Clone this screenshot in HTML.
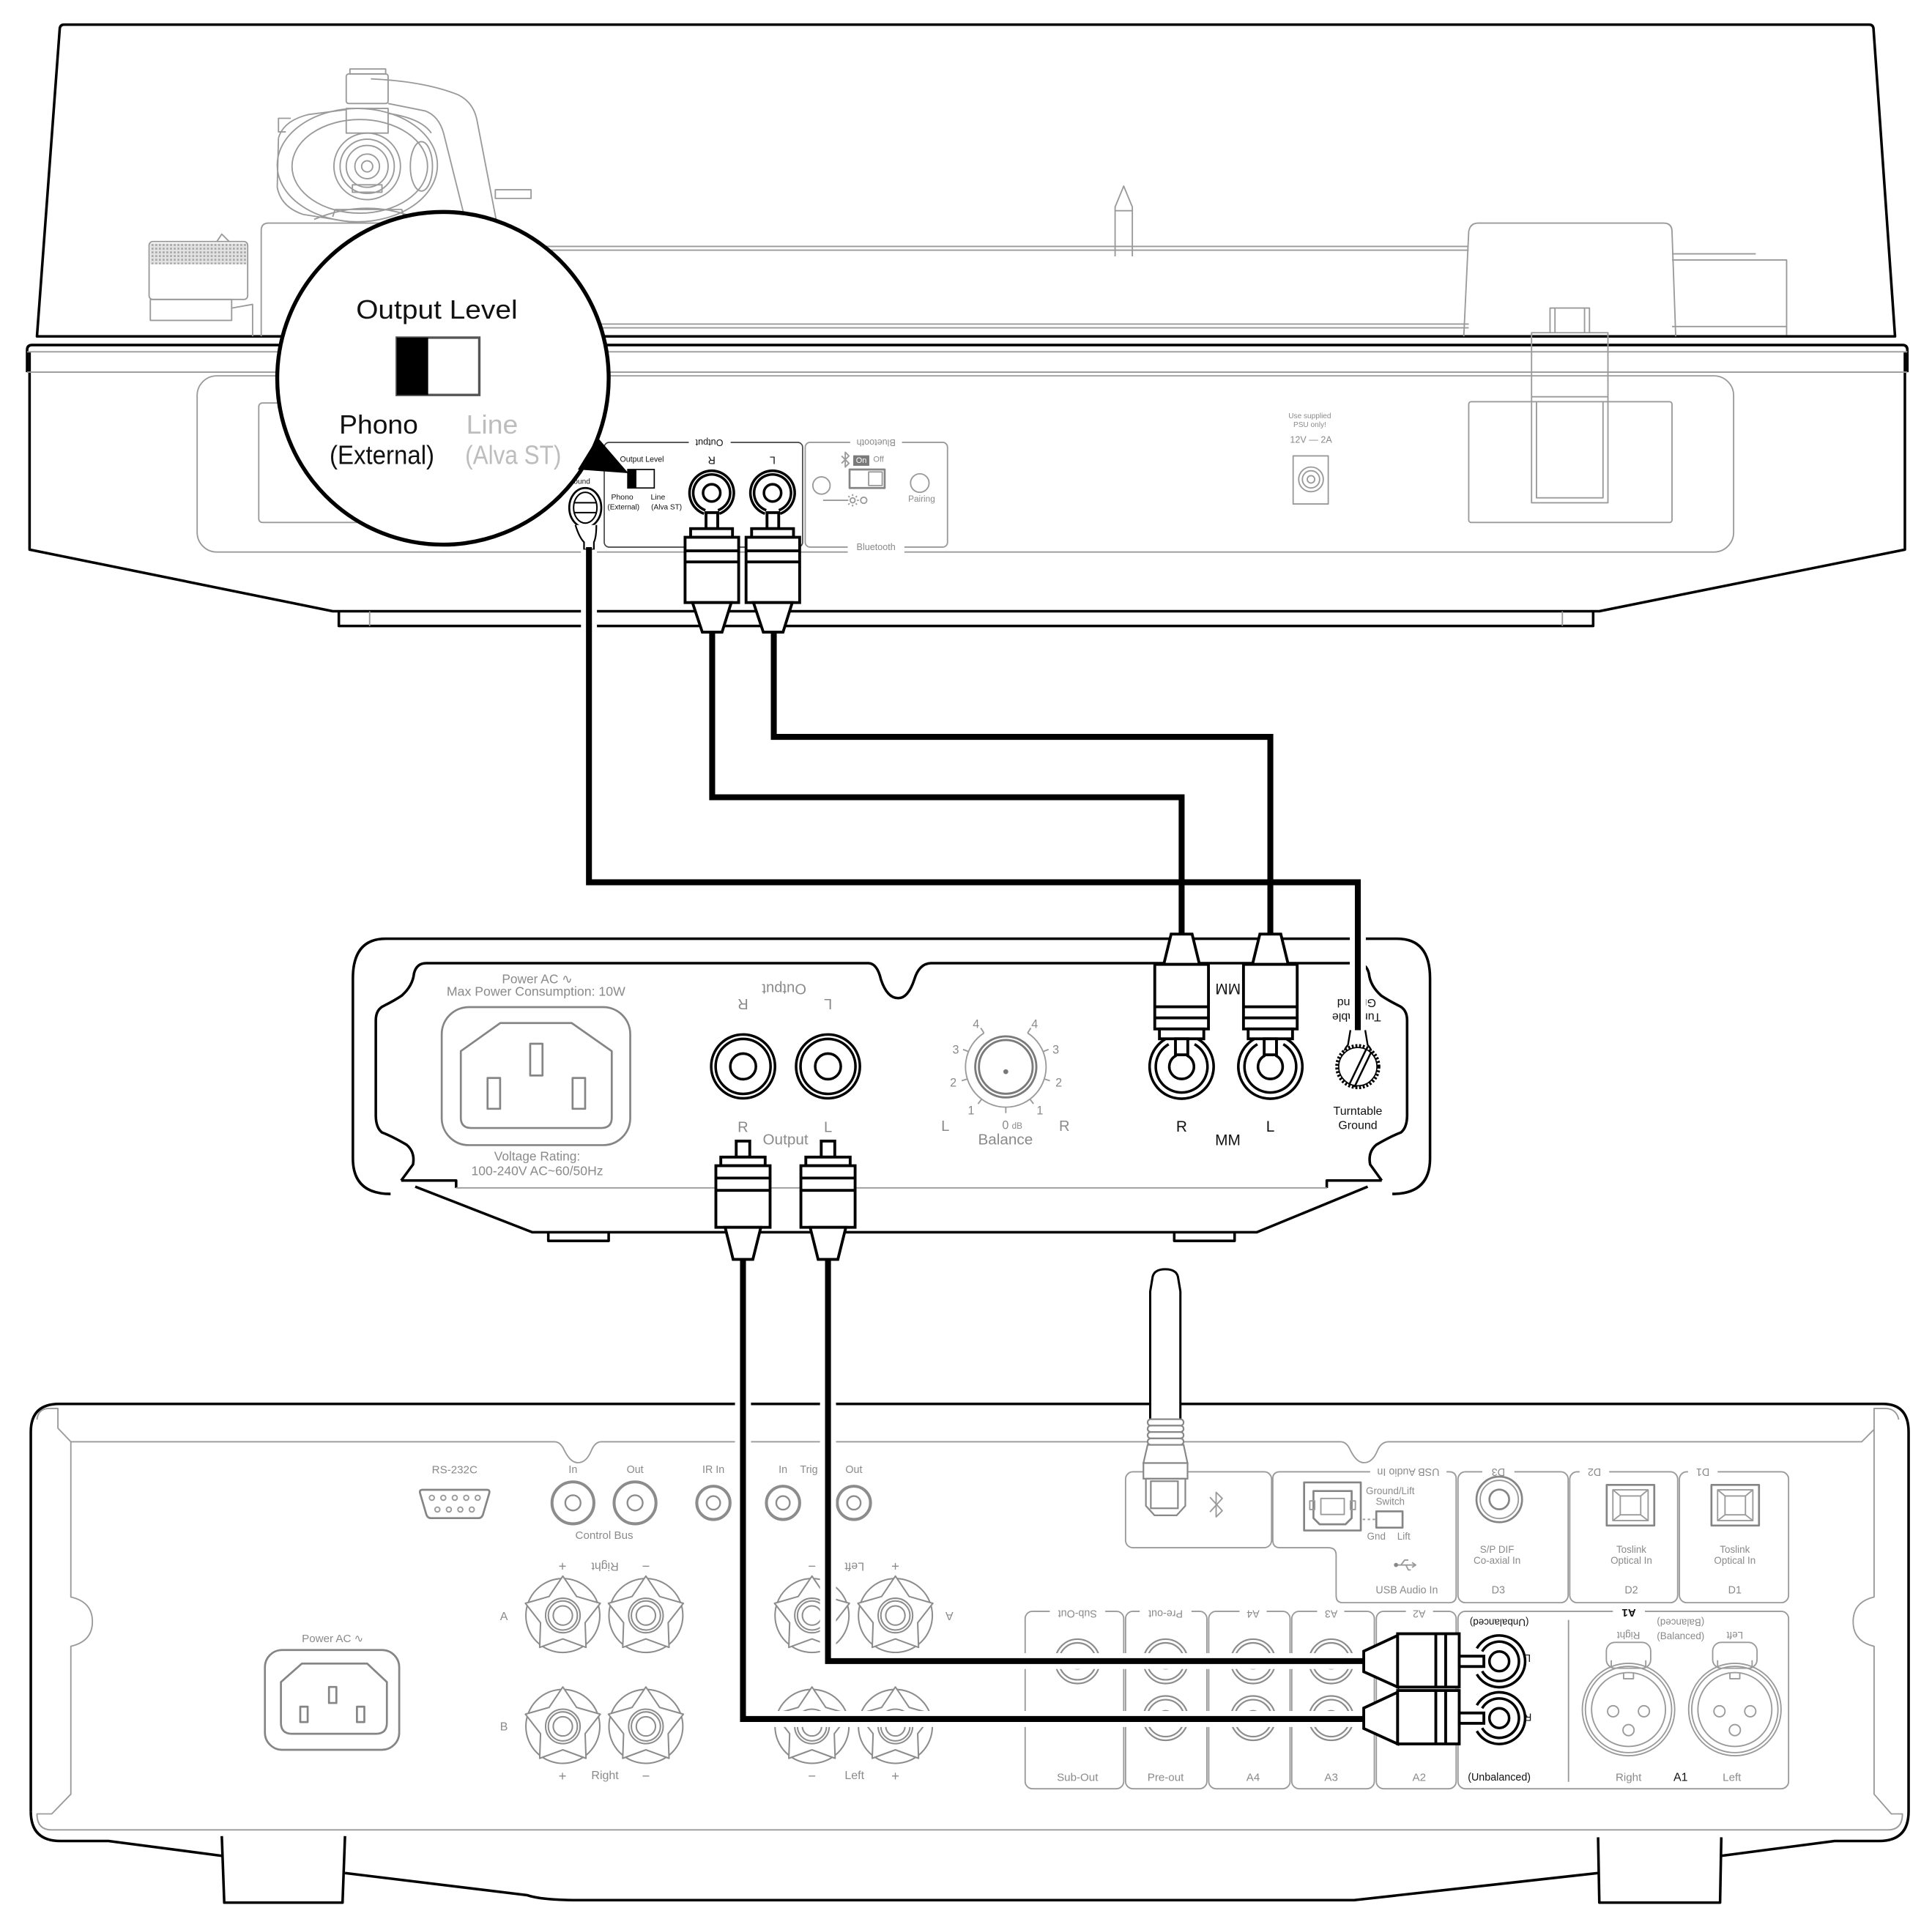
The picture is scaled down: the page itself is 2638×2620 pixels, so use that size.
<!DOCTYPE html>
<html><head><meta charset="utf-8"><title>Turntable - Phono Preamp - Amplifier connection</title>
<style>
html,body{margin:0;padding:0;background:#fff;}
svg{display:block;}
.g{fill:none;stroke:#9a9a9a;stroke-width:1.1;stroke-linejoin:round}
.gw{fill:#fff;stroke:#8c8c8c;stroke-width:1.2;stroke-linejoin:round}
.g2{fill:none;stroke:#858585;stroke-width:1.6;stroke-linejoin:round}
.k{fill:none;stroke:#000;stroke-width:2.1;stroke-linejoin:round}
.kw{fill:#fff;stroke:#000;stroke-width:2.3;stroke-linejoin:miter}
.halo{fill:none;stroke:#fff;stroke-width:13;stroke-linejoin:miter}
.cab{fill:none;stroke:#000;stroke-width:4.8;stroke-linejoin:miter}
text{font-family:"Liberation Sans",Arial,sans-serif;text-anchor:middle;dominant-baseline:central}
.tg{fill:#8a8a8a}
.tk{fill:#111}
</style></head><body>
<svg width="2638" height="2620" viewBox="0 0 1568 1557.3" preserveAspectRatio="none" xmlns="http://www.w3.org/2000/svg">
<defs>
  <pattern id="knurl" x="0" y="0" width="3" height="3" patternUnits="userSpaceOnUse">
    <rect width="3" height="3" fill="#e2e2e2"/>
    <rect x="0" y="0" width="1.6" height="1.6" fill="#a8a8a8"/>
  </pattern>
  <g id="st">
    <circle r="30" fill="none" stroke="#8c8c8c" stroke-width="1.2"/>
    <path class="gw" d="M0,-32 L11.2,-15.4 L30.4,-9.9 L18.1,5.9 L18.8,25.9 L0,19 L-18.8,25.9 L-18.1,5.9 L-30.4,-9.9 L-11.2,-15.4 Z"/>
    <circle r="14" fill="none" stroke="#8c8c8c" stroke-width="1.2"/>
    <circle r="11.8" fill="none" stroke="#8c8c8c" stroke-width="1.2"/>
    <circle r="7.8" fill="none" stroke="#8c8c8c" stroke-width="1.2"/>
  </g>
  <g id="jk">
    <circle r="17" fill="none" stroke="#8c8c8c" stroke-width="2.4"/>
    <circle r="6.2" fill="none" stroke="#8c8c8c" stroke-width="1.4"/>
  </g>
  <g id="jk2">
    <circle r="13.5" fill="none" stroke="#8c8c8c" stroke-width="2.4"/>
    <circle r="5.5" fill="none" stroke="#8c8c8c" stroke-width="1.4"/>
  </g>
  <g id="lj">
    <circle r="18" fill="none" stroke="#8c8c8c" stroke-width="1.3"/>
    <circle r="15" fill="none" stroke="#8c8c8c" stroke-width="1.3"/>
    <circle r="6" fill="none" stroke="#8c8c8c" stroke-width="1.3"/>
  </g>
  <g id="xlr">
    <path class="g" d="M-14,-34 L-14,-40 M14,-34 L14,-40"/>
    <rect x="-18" y="-54.5" width="36" height="21" rx="7" class="g"/>
    <circle r="37.5" class="g"/>
    <circle r="35" class="g"/>
    <circle r="30" class="g"/>
    <path class="g" d="M-4,-30 L-4,-25 L4,-25 L4,-30"/>
    <circle cx="-12.5" cy="1.4" r="4.5" class="g"/>
    <circle cx="12.5" cy="1.4" r="4.5" class="g"/>
    <circle cx="0" cy="16.7" r="4.5" class="g"/>
  </g>
  <g id="tos">
    <rect x="0" y="0" width="38.6" height="33" class="g2"/>
    <rect x="5" y="4" width="28.6" height="25" class="g"/>
    <rect x="11" y="9" width="16.6" height="15.3" class="g"/>
    <path class="g" d="M5,4 L11,9 M33.6,4 L27.6,9 M5,29 L11,24.3 M33.6,29 L27.6,24.3"/>
  </g>
</defs>

<!-- ================= TURNTABLE ================= -->
<path class="k" stroke-width="1.8" d="M48.5,23 Q49,20 52,20 L1517,20 Q1520,20 1520.5,23 L1538,273 L30,273 Z"/>

<g class="g">
  <path d="M212,273 L212,187 Q212,181 218,181 L400,181"/>
  <path d="M395,200 L1192,200 M395,203 L1192,203 M395,263 L1192,263 M395,266 L1192,266"/>
  <path d="M1357,206 L1425,206 M1357,211 L1450,211 L1450,272 M1357,265 L1450,265"/>
  <path d="M1188,273 L1192,188 Q1193,181 1200,181 L1350,181 Q1357,181 1357,188 L1360,273"/>
  <path d="M905,208 L905,168 L912,151 L919,168 L919,208 M905,171 L919,171"/>
  <rect x="284" y="56" width="29" height="4"/>
  <rect x="281" y="60" width="34" height="24" rx="2"/>
  <rect x="281" y="88" width="34" height="20"/>
  <path d="M301,64 Q345,66 372,77 Q384,83 387,97 L403,180"/>
  <path d="M315,84 L345,90 Q356,94 360,108 L378,180"/>
  <path d="M226,112 Q230,98 250,93 L281,89 M315,92 Q342,96 350,108"/>
  <path d="M226,112 L225,152 Q228,168 246,174 L290,181"/>
  <ellipse cx="290" cy="134" rx="65" ry="46"/>
  <ellipse cx="292" cy="135" rx="55" ry="38"/>
  <circle cx="298" cy="135" r="27"/>
  <circle cx="298" cy="135" r="22"/>
  <circle cx="298" cy="135" r="17"/>
  <circle cx="298" cy="135" r="10"/>
  <circle cx="298" cy="135" r="4.5"/>
  <path d="M286,150 L310,150 L310,156 L286,156 Z"/>
  <ellipse cx="342" cy="135" rx="9" ry="20"/>
  <rect x="402" y="154" width="29" height="7"/>
  <path d="M232,107 L226,107 L226,96 L236,96"/>
  <path d="M255,178 Q298,160 340,178 M270,176 L272,170 L326,170 L328,176"/>
  <rect x="121" y="196" width="80" height="47" rx="3"/>
  <rect x="122" y="243" width="66" height="17"/>
  <path d="M188,250 L205,247 L205,273"/>
  <path d="M176,196 L180,190 L186,196"/>
</g>
<rect x="122" y="197.5" width="78" height="17" fill="url(#knurl)"/>

<!-- plinth / body -->
<path class="k" stroke-width="2.4" d="M22,302 L22,284 Q22,280 26,280 L1544,280 Q1548,280 1548,284 L1548,302"/>
<path class="k" d="M24,286 L24,446 L270,496 L1298,496 L1546,446 L1546,286"/>
<path class="g" d="M22,285.5 L1548,285.5 M22,302 L1548,302"/>
<path class="k" stroke-width="1.6" d="M275,496 L275,508 L1293,508 L1293,496"/>
<path class="g" d="M300,496 L300,508 M1268,496 L1268,508"/>

<rect class="g" x="160" y="305" width="1247" height="143" rx="16"/>
<rect class="g" x="210" y="327" width="120" height="97" rx="3"/>
<rect class="g" x="1192" y="326" width="165" height="98" rx="2"/>
<path class="g" d="M1243,270 L1305,270 L1305,408 L1243,408 Z M1247,326 L1247,404 L1301,404 L1301,326 M1243,322 L1305,322 M1258,270 L1258,250 L1290,250 L1290,270 M1262,250 L1262,270 M1286,250 L1286,270"/>

<!-- Output panel -->
<rect x="490.4" y="359" width="161" height="85" rx="4" fill="none" stroke="#444" stroke-width="1"/>
<rect x="559" y="354" width="34" height="10" fill="#fff"/>
<text class="tk" font-size="7.5" transform="rotate(180 575.7 359)" x="575.7" y="359">Output</text>
<text class="tk" font-size="6.3" x="521" y="373">Output Level</text>
<rect x="509.5" y="381" width="21.5" height="15" fill="#fff" stroke="#000" stroke-width="1"/>
<rect x="509.5" y="381" width="7" height="15" fill="#000"/>
<text class="tk" font-size="6.2" x="505" y="404">Phono</text>
<text class="tk" font-size="6" x="506" y="412">(External)</text>
<text class="tk" font-size="6.2" x="534" y="404">Line</text>
<text class="tk" font-size="6" x="541" y="412">(Alva ST)</text>
<text class="tk" font-size="8.5" transform="rotate(180 577.6 373)" x="577.6" y="373">R</text>
<text class="tk" font-size="8.5" transform="rotate(180 627 373)" x="627" y="373">L</text>
<path class="k" stroke-width="2.2" d="M571.4,416.9 A18,18 0 1 1 583.8,416.9"/>
<path class="k" stroke-width="1.5" d="M572.5,414.1 A15,15 0 1 1 582.7,414.1"/>
<circle cx="577.6" cy="400" r="7" class="k" stroke-width="1.6"/>
<path class="k" stroke-width="2.2" d="M620.8,416.9 A18,18 0 1 1 633.2,416.9"/>
<path class="k" stroke-width="1.5" d="M621.9,414.1 A15,15 0 1 1 632.1,414.1"/>
<circle cx="627" cy="400" r="7" class="k" stroke-width="1.6"/>

<!-- Bluetooth panel -->
<rect class="g" x="653.5" y="359" width="115.5" height="85" rx="4"/>
<rect x="690" y="354" width="42" height="10" fill="#fff"/>
<text class="tg" font-size="7.5" transform="rotate(180 711 359)" x="711" y="359">Bluetooth</text>
<rect x="688" y="439" width="46" height="10" fill="#fff"/>
<text class="tg" font-size="7.5" x="711" y="444">Bluetooth</text>
<path class="g" d="M683,370 L689,376 L686,379 L686,367 L689,370 L683,376"/>
<rect x="692.5" y="369.5" width="13" height="8.5" fill="#7a7a7a"/>
<text fill="#fff" font-size="6.5" x="699" y="373.8">On</text>
<text class="tg" font-size="6.5" x="713" y="373">Off</text>
<rect class="g2" x="689.5" y="381" width="28.5" height="15" stroke-width="1.2"/>
<rect class="g" x="705" y="383" width="11" height="11"/>
<circle class="g" cx="666.7" cy="394" r="7"/>
<circle class="g" cx="746.5" cy="392" r="7.5"/>
<path class="g" d="M668,406 L688,406"/>
<circle class="g" cx="692" cy="406" r="2"/>
<path class="g" d="M692,401 L692,402.5 M692,409.5 L692,411 M687,406 L688.5,406 M695.5,406 L697,406 M688.5,402.5 L689.5,403.5 M694.5,408.5 L695.5,409.5 M688.5,409.5 L689.5,408.5 M694.5,403.5 L695.5,402.5"/>
<circle class="g" cx="701" cy="406" r="2.5"/>
<text class="tg" font-size="7" x="748" y="405">Pairing</text>

<!-- PSU -->
<text class="tg" font-size="6" x="1063" y="338">Use supplied</text>
<text class="tg" font-size="6" x="1063" y="345">PSU only!</text>
<text class="tg" font-size="7.5" x="1064" y="357">12V — 2A</text>
<rect class="g" x="1049.5" y="370" width="28.5" height="39"/>
<circle class="g" cx="1064" cy="389" r="10"/>
<circle class="g" cx="1064" cy="389" r="7"/>
<circle class="g" cx="1064" cy="389" r="3"/>

<!-- ground terminal -->
<text class="tk" font-size="6" x="469" y="391">Ground</text>
<ellipse cx="475" cy="412" rx="13" ry="16" fill="#fff" stroke="#000" stroke-width="1.6"/>
<ellipse cx="475" cy="412" rx="9.5" ry="12.5" fill="none" stroke="#000" stroke-width="1.2"/>
<path d="M466,408 L484,408 M466,416 L484,416" stroke="#000" stroke-width="1.2"/>
<path d="M467,426 Q470,436 474,440 L474,446 L482,446 L482,440 Q484,436 484,426" fill="#fff" stroke="#000" stroke-width="1.3"/>

<!-- Magnifier -->
<ellipse cx="359.5" cy="307" rx="134.5" ry="135" fill="#fff" stroke="#000" stroke-width="3.2"/>
<polygon points="485,355 469,381 510,384" fill="#000"/>
<text class="tk" font-size="21.5" x="354.5" y="251" textLength="131" lengthAdjust="spacingAndGlyphs">Output Level</text>
<rect x="322" y="274" width="67" height="46.5" fill="#fff" stroke="#555" stroke-width="2"/>
<rect x="322" y="274" width="25.5" height="46.5" fill="#000"/>
<text class="tk" font-size="21.5" x="307.3" y="344.5" textLength="64" lengthAdjust="spacingAndGlyphs">Phono</text>
<text class="tk" font-size="21.5" x="310" y="369" textLength="85" lengthAdjust="spacingAndGlyphs">(External)</text>
<text fill="#bdbdbd" font-size="21.5" x="399.4" y="344.5" textLength="42" lengthAdjust="spacingAndGlyphs">Line</text>
<text fill="#bdbdbd" font-size="21.5" x="416.5" y="369" textLength="78" lengthAdjust="spacingAndGlyphs">(Alva ST)</text>

<!-- ================= PHONO PREAMP ================= -->
<path class="k" stroke-width="2.2" d="M317,968.9 Q286.4,968.9 286.4,940 L286.4,794 Q286.4,761.8 313,761.8 L1134,761.8 Q1160.6,761.8 1160.6,794 L1160.6,940 Q1160.6,968.9 1130,968.9"/>
<path class="k" d="M325.6,958 L335.2,945 Q337,935 330,929 Q318,922 310,919 Q305,915 305,905 L305,828 Q305,819 312,816 Q320,812 326,808 Q335,800 336,790 Q338,781.6 346,781.6 L705,781.6 Q712,782 715,795 Q720,810 729,810 Q737,810 742,795 Q746,781.6 756,781.6 L1101,781.6 Q1109,781.6 1111,790 Q1112,800 1121,808 Q1127,812 1135,816 Q1142,819 1142,828 L1142,905 Q1142,915 1137,919 Q1129,922 1117,929 Q1110,935 1112,945 L1121.4,958"/>
<path class="k" d="M325.6,958 L370.2,958 L370.2,964 M1121.4,958 L1076.8,958 L1076.8,964"/>
<path class="g" d="M370,964 L1077,964"/>
<path class="k" d="M337,963 L432,1000 L1020,1000 L1110,963"/>
<path class="k" stroke-width="1.4" d="M445,1000 L445,1007 L494,1007 L494,1000 M953,1000 L953,1007 L1002,1007 L1002,1000"/>

<text class="tg" font-size="10.3" x="436" y="794.5">Power AC ∿</text>
<text class="tg" font-size="10.3" x="435" y="804.5" textLength="145" lengthAdjust="spacingAndGlyphs">Max Power Consumption: 10W</text>
<rect class="g2" x="358.5" y="817.3" width="153" height="112" rx="22"/>
<path class="g2" d="M406,830.2 L464,830.2 L496.5,853 L496.5,907 Q496.5,915.4 488,915.4 L382.5,915.4 Q374,915.4 374,907 L374,853 Z"/>
<rect class="g2" x="430.3" y="847" width="10" height="25.8"/>
<rect class="g2" x="395.7" y="874.8" width="10.2" height="25"/>
<rect class="g2" x="464.7" y="874.8" width="10.2" height="25"/>
<text class="tg" font-size="10.3" x="436" y="938.2">Voltage Rating:</text>
<text class="tg" font-size="10.3" x="436" y="950" textLength="107" lengthAdjust="spacingAndGlyphs">100-240V AC~60/50Hz</text>

<text class="tg" font-size="12" transform="rotate(180 636.4 802)" x="636.4" y="802">Output</text>
<text class="tg" font-size="12" transform="rotate(180 603 814.3)" x="603" y="814.3">R</text>
<text class="tg" font-size="12" transform="rotate(180 672 814.3)" x="672" y="814.3">L</text>
<circle cx="603.1" cy="865.4" r="25.9" class="k" stroke-width="1.5"/>
<circle cx="603.1" cy="865.4" r="22.3" class="k" stroke-width="3"/>
<circle cx="603.1" cy="865.4" r="10.4" class="k" stroke-width="2"/>
<circle cx="672" cy="865.4" r="25.9" class="k" stroke-width="1.5"/>
<circle cx="672" cy="865.4" r="22.3" class="k" stroke-width="3"/>
<circle cx="672" cy="865.4" r="10.4" class="k" stroke-width="2"/>
<text class="tg" font-size="12" x="603" y="915">R</text>
<text class="tg" font-size="12" x="672" y="915">L</text>
<text class="tg" font-size="12.3" x="637.5" y="925">Output</text>

<circle cx="816.3" cy="865.8" r="24.8" fill="none" stroke="#7a7a7a" stroke-width="1.7"/>
<circle cx="816.3" cy="865.8" r="21.8" fill="none" stroke="#7a7a7a" stroke-width="1.7"/>
<circle cx="816.3" cy="869.7" r="2" fill="#777"/>
<path class="g" d="M833.97,838.28 A32.7,32.7 0 1 1 798.63,838.28"/>
<path class="g" d="M798.6,838.3 L796,834.2 M834,838.3 L836.6,834.2 M786,853.4 L781.6,851.6 M846.6,853.4 L851,851.6 M785.1,875.6 L780.5,877 M847.5,875.6 L852.1,877 M796.7,892 L793.8,895.8 M835.9,892 L838.8,895.8 M816.3,898.5 L816.3,903.3"/>
<g class="tg" font-size="9.6">
<text x="792.2" y="831.2">4</text><text x="839.7" y="831.2">4</text>
<text x="775.7" y="852">3</text><text x="856.9" y="852">3</text>
<text x="773.7" y="878.7">2</text><text x="859.3" y="878.7">2</text>
<text x="788.2" y="901.5">1</text><text x="844" y="901.5">1</text>
<text x="816" y="913.4">0</text>
</g>
<text class="tg" font-size="7" x="825.5" y="914">dB</text>
<text class="tg" font-size="12" x="767.2" y="914.2">L</text>
<text class="tg" font-size="12" x="863.8" y="914.2">R</text>
<text class="tg" font-size="12.3" x="816" y="925">Balance</text>

<text class="tk" font-size="12.4" transform="rotate(180 996.6 802)" x="996.6" y="802">MM</text>
<path class="k" stroke-width="2" d="M972,843.1 A26,26 0 1 1 946,843.1"/>
<path class="k" stroke-width="2" d="M969.5,847.4 A21,21 0 1 1 948.5,847.4"/>
<path class="k" stroke-width="2" d="M963.2,856.5 A10,10 0 1 1 954.8,856.5"/>
<path class="k" stroke-width="2" d="M1044,843.1 A26,26 0 1 1 1018,843.1"/>
<path class="k" stroke-width="2" d="M1041.5,847.4 A21,21 0 1 1 1020.5,847.4"/>
<path class="k" stroke-width="2" d="M1035.2,856.5 A10,10 0 1 1 1026.8,856.5"/>
<text class="tk" font-size="12.4" x="959" y="914.5">R</text>
<text class="tk" font-size="12.4" x="1031" y="914.5">L</text>
<text class="tk" font-size="12.4" x="996.5" y="925.5">MM</text>

<text class="tk" font-size="9.5" transform="rotate(180 1101 825)" x="1101" y="825">Turntable</text>
<text class="tk" font-size="9.5" transform="rotate(180 1101 813.5)" x="1101" y="813.5">Ground</text>
<text class="tk" font-size="9.5" x="1102" y="902">Turntable</text>
<text class="tk" font-size="9.5" x="1102" y="913.5">Ground</text>

<!-- ================= AMPLIFIER ================= -->
<path class="k" stroke-width="2.2" d="M25,1470 L25,1162 Q25,1139.3 48,1139.3 L1528,1139.3 Q1549,1139.3 1549,1162 L1549,1470 Q1549,1494 1525,1494 L1489,1494 L1397,1506"/>
<path class="k" stroke-width="2.2" d="M25,1470 Q25,1494 49,1494 L88,1494 L180,1506"/>
<path class="k" d="M280,1520 L428,1538 Q440,1542 470,1542 L1099,1542 L1297,1520"/>
<path class="k" d="M180,1490 L182,1544 L278,1544 L280,1490 M1297,1491 L1298,1544 L1396,1544 L1397,1491"/>
<path class="g" d="M30,1152 Q31,1143 40,1143 L47,1143 L47,1159 L57.5,1170 L450,1170 Q455,1170 458,1177 Q463,1187 469,1187 Q476,1187 480,1177 Q483,1170 488,1170 L1088,1170 Q1093,1170 1096,1177 Q1101,1187 1107,1187 Q1114,1187 1118,1177 Q1121,1170 1127,1170 L1511,1170 L1521,1160 L1521,1143 L1530,1143 Q1539,1143 1541,1152"/>
<path class="g" d="M57.5,1170 L57.5,1296 Q75,1300 75,1316 Q75,1332 57.5,1336 L57.5,1456 L42,1472 L30,1472 Q30,1485 42,1485 L1532,1485 Q1544,1485 1544,1472 L1535,1472 L1521,1456 L1521,1336 Q1504,1332 1504,1316 Q1504,1300 1521,1296 L1521,1160"/>

<text class="tg" font-size="9" x="369" y="1193">RS-232C</text>
<path class="g2" d="M343,1209 L395,1209 Q398,1209 397,1212 L392,1229 Q391,1232 388,1232 L350,1232 Q347,1232 346,1229 L341,1212 Q340,1209 343,1209 Z"/>
<g class="g" stroke-width="1.2">
<circle cx="350.5" cy="1215.5" r="2"/><circle cx="359.8" cy="1215.5" r="2"/><circle cx="369.1" cy="1215.5" r="2"/><circle cx="378.4" cy="1215.5" r="2"/><circle cx="387.7" cy="1215.5" r="2"/>
<circle cx="355" cy="1225" r="2"/><circle cx="364.3" cy="1225" r="2"/><circle cx="373.6" cy="1225" r="2"/><circle cx="382.9" cy="1225" r="2"/>
</g>
<text class="tg" font-size="8.5" x="465" y="1193">In</text>
<text class="tg" font-size="8.5" x="515.4" y="1193">Out</text>
<text class="tg" font-size="8.5" x="579" y="1193">IR In</text>
<text class="tg" font-size="8.5" x="635.5" y="1193">In</text>
<text class="tg" font-size="8.5" x="656.5" y="1193">Trig</text>
<text class="tg" font-size="8.5" x="693" y="1193">Out</text>
<use href="#jk" x="465" y="1219.6"/>
<use href="#jk" x="515.4" y="1219.6"/>
<use href="#jk2" x="579" y="1219.6"/>
<use href="#jk2" x="635.5" y="1219.6"/>
<use href="#jk2" x="693" y="1219.6"/>
<text class="tg" font-size="9" x="490.4" y="1246">Control Bus</text>

<use href="#st" x="456.8" y="1311"/>
<use href="#st" x="524.2" y="1311"/>
<use href="#st" x="456.8" y="1401"/>
<use href="#st" x="524.2" y="1401"/>
<use href="#st" x="659" y="1311"/>
<use href="#st" x="726.7" y="1311"/>
<use href="#st" x="659" y="1401"/>
<use href="#st" x="726.7" y="1401"/>
<g class="tg" font-size="11">
<text x="456.5" y="1270.7">+</text><text x="524.2" y="1270.7">−</text>
<text x="456.5" y="1441">+</text><text x="524.2" y="1441">−</text>
<text x="659" y="1270.7">−</text><text x="726.7" y="1270.7">+</text>
<text x="659" y="1441">−</text><text x="726.7" y="1441">+</text>
</g>
<text class="tg" font-size="9.5" transform="rotate(180 491 1270.7)" x="491" y="1270.7">Right</text>
<text class="tg" font-size="9.5" x="491" y="1441">Right</text>
<text class="tg" font-size="9.5" transform="rotate(180 693.5 1270.7)" x="693.5" y="1270.7">Left</text>
<text class="tg" font-size="9.5" x="693.5" y="1441">Left</text>
<text class="tg" font-size="9.5" x="409" y="1312">A</text>
<text class="tg" font-size="9.5" x="409" y="1401.6">B</text>
<text class="tg" font-size="9.5" transform="rotate(180 770.5 1311)" x="770.5" y="1311">A</text>

<text class="tg" font-size="9" x="270" y="1330">Power AC ∿</text>
<rect class="g2" x="215" y="1339" width="109" height="81" rx="14"/>
<path class="g2" d="M245,1350 L298,1350 L314,1365 L314,1398 Q314,1407 305,1407 L237,1407 Q228,1407 228,1398 L228,1365 Z"/>
<rect class="g2" x="267" y="1369" width="6" height="13"/>
<rect class="g2" x="243.7" y="1385" width="6" height="12.5"/>
<rect class="g2" x="289.7" y="1385" width="6" height="12.5"/>

<rect class="g" x="913.5" y="1194.4" width="118.5" height="61.6" rx="6"/>
<path class="g" d="M982,1215 L992,1226 L987,1231 L987,1211 L992,1216 L982,1227"/>
<path class="g" d="M1033,1200 Q1033,1194.4 1039,1194.4 L1176,1194.4 Q1181.8,1194.4 1181.8,1200 L1181.8,1295 Q1181.8,1300.6 1176,1300.6 L1090,1300.6 Q1084.4,1300.6 1084.4,1295 L1084.4,1262 Q1084.4,1256 1078,1256 L1039,1256 Q1033,1256 1033,1250 Z"/>
<rect class="g" x="1183.3" y="1194.4" width="89.4" height="106.2" rx="6"/>
<rect class="g" x="1274" y="1194.4" width="87.6" height="106.2" rx="6"/>
<rect class="g" x="1363" y="1194.4" width="88.6" height="106.2" rx="6"/>
<rect x="1112" y="1189" width="62" height="10" fill="#fff"/>
<text class="tg" font-size="8.5" transform="rotate(180 1143 1194)" x="1143" y="1194">USB Audio In</text>
<rect x="1203" y="1189" width="26" height="10" fill="#fff"/>
<text class="tg" font-size="8.5" transform="rotate(180 1216 1194)" x="1216" y="1194">D3</text>
<rect x="1282" y="1189" width="24" height="10" fill="#fff"/>
<text class="tg" font-size="8.5" transform="rotate(180 1294 1194)" x="1294" y="1194">D2</text>
<rect x="1370" y="1189" width="24" height="10" fill="#fff"/>
<text class="tg" font-size="8.5" transform="rotate(180 1382 1194)" x="1382" y="1194">D1</text>

<rect class="g2" x="1058.4" y="1203" width="46" height="39" stroke-width="1.3"/>
<path class="g2" stroke-width="1.3" d="M1066,1210 L1097,1210 L1097,1232 L1092,1237 L1071,1237 L1066,1232 Z"/>
<rect class="g" x="1072" y="1216" width="19" height="13"/>
<rect class="g" x="1063" y="1218" width="4" height="7"/>
<rect class="g" x="1096" y="1218" width="4" height="7"/>
<text class="tg" font-size="8" x="1128.3" y="1209.8">Ground/Lift</text>
<text class="tg" font-size="8" x="1128.3" y="1218.6">Switch</text>
<path class="g" stroke-dasharray="2 2" d="M1106,1233 L1117,1233"/>
<rect class="g2" x="1117" y="1226.5" width="21.3" height="13.2" stroke-width="1.3"/>
<text class="tg" font-size="8" x="1117" y="1246.7">Gnd</text>
<text class="tg" font-size="8" x="1139.3" y="1246.7">Lift</text>
<path class="g" d="M1133,1270 L1149,1270 M1146,1268 L1149,1270 L1146,1272 M1137,1270 L1140,1266 L1143,1266 M1141,1270 L1143,1274 L1145,1274"/>
<circle cx="1133" cy="1270" r="1.7" fill="#888"/>
<text class="tg" font-size="8.5" x="1141.8" y="1290.8">USB Audio In</text>

<circle class="g2" cx="1216.8" cy="1216.8" r="18.5"/>
<circle class="g" cx="1216.8" cy="1216.8" r="15.5"/>
<circle class="g2" cx="1216.8" cy="1216.8" r="8"/>
<text class="tg" font-size="8" x="1215" y="1257.3">S/P DIF</text>
<text class="tg" font-size="8" x="1215" y="1266.3">Co-axial In</text>
<text class="tg" font-size="8.5" x="1216" y="1290.8">D3</text>
<use href="#tos" x="1304" y="1205"/>
<text class="tg" font-size="8" x="1324" y="1257.3">Toslink</text>
<text class="tg" font-size="8" x="1324" y="1266.3">Optical In</text>
<text class="tg" font-size="8.5" x="1324" y="1290.8">D2</text>
<use href="#tos" x="1389" y="1205"/>
<text class="tg" font-size="8" x="1408" y="1257.3">Toslink</text>
<text class="tg" font-size="8" x="1408" y="1266.3">Optical In</text>
<text class="tg" font-size="8.5" x="1408" y="1290.8">D1</text>

<path fill="#fff" stroke="#000" stroke-width="1.8" d="M933.5,1151.7 L933.5,1048 L935.5,1036 Q937,1030 945.7,1030 Q954.5,1030 956,1036 L958,1048 L958,1151.7"/>
<g fill="#fff" stroke="#888" stroke-width="1.3">
<rect x="931.4" y="1151.7" width="29.2" height="5.2" rx="2.6"/>
<rect x="931.4" y="1156.9" width="29.2" height="5.2" rx="2.6"/>
<rect x="931.4" y="1162.1" width="29.2" height="5.2" rx="2.6"/>
<rect x="931.4" y="1167.3" width="29.2" height="5.2" rx="2.6"/>
<path d="M931.4,1172.5 L960.6,1172.5 L963.8,1187.3 L928,1187.3 Z"/>
<rect x="928" y="1187.3" width="35.8" height="12.7"/>
<path d="M930,1200 L962,1200 L962,1222 L955,1229.7 L937,1229.7 L930,1222 Z"/>
<rect x="934" y="1202" width="22" height="22"/>
</g>

<rect class="g" x="832" y="1307.6" width="80" height="144" rx="6"/>
<rect class="g" x="913.5" y="1307.6" width="66" height="144" rx="6"/>
<rect class="g" x="981" y="1307.6" width="66" height="144" rx="6"/>
<rect class="g" x="1048.4" y="1307.6" width="67" height="144" rx="6"/>
<rect class="g" x="1117" y="1307.6" width="64.8" height="144" rx="6"/>
<rect class="g" x="1183.3" y="1307.6" width="268.3" height="144" rx="6"/>
<path class="g" d="M1273,1314.6 L1273,1446"/>
<g font-size="8.5">
<rect x="852" y="1303" width="45" height="10" fill="#fff"/>
<text class="tg" transform="rotate(180 874.5 1309)" x="874.5" y="1309">Sub-Out</text>
<rect x="925" y="1303" width="42" height="10" fill="#fff"/>
<text class="tg" transform="rotate(180 946 1309)" x="946" y="1309">Pre-out</text>
<rect x="1006" y="1303" width="22" height="10" fill="#fff"/>
<text class="tg" transform="rotate(180 1017 1309)" x="1017" y="1309">A4</text>
<rect x="1069" y="1303" width="22" height="10" fill="#fff"/>
<text class="tg" transform="rotate(180 1080.4 1309)" x="1080.4" y="1309">A3</text>
<rect x="1141" y="1303" width="22" height="10" fill="#fff"/>
<text class="tg" transform="rotate(180 1151.8 1309)" x="1151.8" y="1309">A2</text>
<rect x="1309" y="1303" width="26" height="10" fill="#fff"/>
</g>
<text class="tk" font-size="9" font-weight="bold" transform="rotate(180 1322 1308.5)" x="1322" y="1308.5">A1</text>
<text class="tk" font-size="8" transform="rotate(180 1216.8 1316.6)" x="1216.8" y="1316.6">(Unbalanced)</text>
<text class="tg" font-size="8" transform="rotate(180 1364 1316.6)" x="1364" y="1316.6">(Balanced)</text>
<text class="tg" font-size="8" x="1364" y="1327.5">(Balanced)</text>
<text class="tg" font-size="8" transform="rotate(180 1321.7 1327)" x="1321.7" y="1327">Right</text>
<text class="tg" font-size="8" transform="rotate(180 1408 1327)" x="1408" y="1327">Left</text>
<g class="tg" font-size="9">
<text x="874.5" y="1442.7">Sub-Out</text>
<text x="946" y="1442.7">Pre-out</text>
<text x="1017" y="1442.7">A4</text>
<text x="1080.4" y="1442.7">A3</text>
<text x="1151.8" y="1442.7">A2</text>
<text x="1321.7" y="1442.7">Right</text>
<text x="1405.6" y="1442.7">Left</text>
</g>
<text class="tk" font-size="8.5" x="1216.8" y="1442.7">(Unbalanced)</text>
<text class="tk" font-size="9.5" x="1364" y="1442.7">A1</text>

<use href="#lj" x="874.5" y="1348.2"/>
<use href="#lj" x="946" y="1348.2"/>
<use href="#lj" x="1017" y="1348.2"/>
<use href="#lj" x="1080.4" y="1348.2"/>
<use href="#lj" x="946" y="1394.3"/>
<use href="#lj" x="1017" y="1394.3"/>
<use href="#lj" x="1080.4" y="1394.3"/>

<path class="k" stroke-width="1.8" d="M1198.6,1337.7 A21,21 0 1 1 1198.6,1358.7"/>
<path class="k" stroke-width="1.8" d="M1202.9,1340.2 A16,16 0 1 1 1202.9,1356.2"/>
<circle class="k" stroke-width="1.8" cx="1216.8" cy="1348.2" r="8"/>
<path class="k" stroke-width="1.8" d="M1198.6,1383.8 A21,21 0 1 1 1198.6,1404.8"/>
<path class="k" stroke-width="1.8" d="M1202.9,1386.3 A16,16 0 1 1 1202.9,1402.3"/>
<circle class="k" stroke-width="1.8" cx="1216.8" cy="1394.3" r="8"/>
<text class="tk" font-size="8.5" transform="rotate(180 1240 1345)" x="1240" y="1345">L</text>
<text class="tk" font-size="8.5" transform="rotate(180 1240 1393)" x="1240" y="1393">R</text>

<use href="#xlr" x="1321.7" y="1387.3"/>
<use href="#xlr" x="1408" y="1387.3"/>

<!-- ================= CABLES ================= -->
<g class="halo">
<path d="M478,446 L478,716 L1102,716 L1102,836"/>
<path d="M578,512 L578,647 L959,647 L959,760"/>
<path d="M628,512 L628,598 L1031,598 L1031,760"/>
<path d="M603,1021 L603,1395 L1108,1395"/>
<path d="M672,1021 L672,1348 L1108,1348"/>
</g>
<g class="cab">
<path d="M478,444 L478,716 L1102,716 L1102,836"/>
<path d="M578,512 L578,647 L959,647 L959,760"/>
<path d="M628,512 L628,598 L1031,598 L1031,760"/>
<path d="M603,1021 L603,1395 L1108,1395"/>
<path d="M672,1021 L672,1348 L1108,1348"/>
</g>

<g class="kw">
<rect x="573" y="416" width="9.5" height="13"/>
<rect x="560.5" y="429" width="34" height="7"/>
<rect x="556" y="436" width="43.5" height="53"/>
<path d="M556,447 L599.5,447 M556,456 L599.5,456"/>
<path d="M562,489 L593.5,489 L586,513 L570,513 Z"/>
<rect x="622.5" y="416" width="9.5" height="13"/>
<rect x="610" y="429" width="34" height="7"/>
<rect x="605.5" y="436" width="43.5" height="53"/>
<path d="M605.5,447 L649,447 M605.5,456 L649,456"/>
<path d="M611.5,489 L643,489 L635.5,513 L619.5,513 Z"/>
</g>

<g class="kw">
<path d="M950.5,758 L967.5,758 L973.5,782.6 L944.5,782.6 Z"/>
<rect x="937.2" y="782.6" width="43.6" height="52.4"/>
<path d="M937.2,817 L980.8,817 M937.2,826 L980.8,826"/>
<rect x="941" y="835" width="36" height="8"/>
<rect x="954" y="843" width="10" height="13"/>
<path d="M1022.5,758 L1039.5,758 L1045.5,782.6 L1016.5,782.6 Z"/>
<rect x="1009.2" y="782.6" width="43.6" height="52.4"/>
<path d="M1009.2,817 L1052.8,817 M1009.2,826 L1052.8,826"/>
<rect x="1013" y="835" width="36" height="8"/>
<rect x="1026" y="843" width="10" height="13"/>
</g>

<path d="M1096,836 L1094,848 Q1089,853 1092,860 M1108,836 L1110,848 Q1115,853 1112,860" fill="none" stroke="#000" stroke-width="1.4"/>
<circle cx="1102" cy="857" r="4" fill="none" stroke="#000" stroke-width="1.4"/>
<circle cx="1102" cy="865.6" r="17" fill="#fff" stroke="#000" stroke-width="2.6" stroke-dasharray="1.6 1.4"/>
<circle cx="1102" cy="865.6" r="15.5" fill="none" stroke="#000" stroke-width="1"/>
<path d="M1108.7,851.7 L1094.9,880.4 M1113,853.5 L1099.2,882.2" stroke="#000" stroke-width="1.5" fill="none"/>

<g class="kw">
<rect x="597.5" y="926" width="11" height="13"/>
<rect x="585" y="939" width="36" height="7"/>
<rect x="581" y="946" width="44" height="50"/>
<path d="M581,956 L625,956 M581,966 L625,966"/>
<path d="M588.5,996 L617.5,996 L611,1022 L595,1022 Z"/>
<rect x="666.5" y="926" width="11" height="13"/>
<rect x="654" y="939" width="36" height="7"/>
<rect x="650" y="946" width="44" height="50"/>
<path d="M650,956 L694,956 M650,966 L694,966"/>
<path d="M657.5,996 L686.5,996 L680,1022 L664,1022 Z"/>
</g>

<g class="kw">
<path d="M1106.8,1340 L1134.3,1327.2 L1134.3,1369.1 L1106.8,1356.6 Z"/>
<rect x="1134.3" y="1325.8" width="50" height="43.3"/>
<path d="M1165.3,1325.8 L1165.3,1369.1 M1173.3,1325.8 L1173.3,1369.1"/>
<rect x="1184.3" y="1344" width="20" height="8.4"/>
<path d="M1106.8,1386.1 L1134.3,1373.3 L1134.3,1415.2 L1106.8,1402.7 Z"/>
<rect x="1134.3" y="1371.9" width="50" height="43.3"/>
<path d="M1165.3,1371.9 L1165.3,1415.2 M1173.3,1371.9 L1173.3,1415.2"/>
<rect x="1184.3" y="1390.1" width="20" height="8.4"/>
</g>
</svg>
</body></html>
